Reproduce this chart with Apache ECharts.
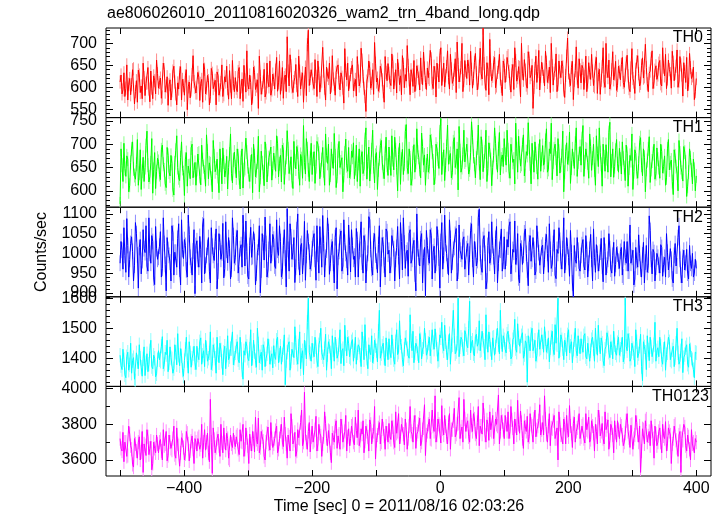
<!DOCTYPE html>
<html>
<head>
<meta charset="utf-8">
<script src="https://cdn.jsdelivr.net/npm/echarts@6/dist/echarts.min.js"></script>
<style>
html,body{margin:0;padding:0;background:#fff;}
#chart{width:723px;height:516px;}
</style>
</head>
<body>
<div id="chart"></div>
<script>
// ---- data ----
const title = 'ae806026010_20110816020326_wam2_trn_4band_long.qdp';
const xTitle = 'Time [sec] 0 = 2011/08/16 02:03:26';
const yTitle = 'Counts/sec';
// bins: "Values" at t = -500 + 3k (k = 0..300), "Mid" at t = -498.5 + 3k (k = 0..299)
const tStart = -500, tStep = 3, tHalf = 1.5;

const th0Values = [
612,585,633,598,571,620,606,642,590,566,628,603,655,581,610,596,637,574,615,662,
598,621,578,640,603,559,617,592,648,585,610,633,571,604,626,549,612,594,672,600,
587,623,609,566,641,598,615,579,632,605,560,627,594,651,583,612,597,638,574,609,
622,590,645,601,568,617,683,596,611,578,634,603,552,625,599,641,587,613,660,594,
618,639,591,660,607,575,628,715,603,649,588,622,604,671,596,633,612,581,730,620,
642,597,625,660,589,614,637,571,628,655,603,619,582,646,611,633,598,688,617,592,
629,651,606,580,637,614,662,598,545,626,643,609,584,655,621,603,639,590,670,615,
632,604,658,619,587,641,626,672,599,614,650,583,628,661,607,636,594,622,680,611,
644,618,665,597,633,655,612,690,628,601,647,622,675,609,639,588,652,627,700,615,
638,662,605,641,620,677,594,648,631,735,612,656,583,640,625,668,603,646,619,581,
650,627,672,609,638,595,661,622,645,700,616,639,598,666,629,552,643,611,684,625,
641,603,657,624,588,649,632,676,607,635,660,594,627,712,616,645,572,638,621,665,
610,643,625,590,656,618,637,601,668,629,584,647,613,700,622,596,640,617,659,604,
635,652,611,628,673,597,644,620,586,658,631,609,667,624,645,590,637,683,612,649,
628,661,603,646,675,619,640,598,657,632,685,614,651,580,636,668,607,645,626,572,
620];
const th0Mid = [
628,594,579,651,607,583,640,562,615,639,588,574,622,609,645,567,598,626,585,631,
611,575,655,589,624,606,571,637,612,560,596,647,618,582,640,601,576,629,613,587,
634,570,618,654,585,627,560,643,597,616,635,582,611,579,624,648,573,603,661,590,
598,636,574,619,650,589,607,628,560,646,595,617,671,584,612,578,655,601,582,630,
596,668,610,584,645,622,590,637,674,601,613,652,579,637,619,566,646,697,604,640,
608,663,579,632,610,691,598,646,620,585,672,607,634,651,594,623,564,638,655,612,
645,592,618,670,603,689,625,579,614,660,598,640,702,612,591,648,617,566,634,654,
611,676,596,640,664,606,583,652,629,695,617,640,602,590,649,621,667,606,644,595,
622,684,609,648,578,638,672,604,655,626,683,596,642,618,665,703,612,645,590,661,
620,648,682,598,657,633,610,689,619,654,593,641,709,615,656,599,634,675,602,660,
611,668,636,589,652,690,614,647,578,632,663,605,681,622,650,600,671,636,594,657,
625,682,611,646,700,605,639,590,660,622,647,577,671,633,604,659,616,692,598,640,
650,595,671,612,633,675,604,655,586,641,616,690,600,636,662,608,681,630,593,648,
617,668,600,655,626,590,688,612,641,672,603,650,621,698,608,632,665,597,639,618,
655,608,690,626,597,662,631,682,615,648,600,670,628,656,611,592,677,620,646,590];

const th1Values = [
572,655,702,631,668,612,690,647,625,710,638,603,672,650,728,619,660,595,682,641,
663,624,698,645,607,676,632,659,591,687,650,622,705,639,668,610,654,692,628,661,
646,681,613,667,640,720,626,658,598,675,649,631,690,615,662,644,604,679,637,666,
652,690,628,671,606,648,683,635,662,596,675,643,717,629,660,611,686,646,668,623,
681,642,702,658,619,688,650,729,637,673,605,664,695,641,678,627,661,712,645,670,
635,684,652,700,626,667,643,722,659,612,690,648,675,631,706,662,598,681,654,693,
640,672,626,698,659,610,684,647,735,663,621,688,652,676,603,669,708,641,680,655,
694,633,667,715,650,678,614,689,658,742,637,671,626,699,661,683,646,724,655,612,
679,652,707,664,630,690,648,755,668,622,695,657,680,639,714,662,602,686,650,730,
666,698,645,748,674,628,692,659,716,641,683,620,703,667,650,735,661,690,634,677,
712,655,688,627,699,668,745,640,681,657,720,633,676,694,615,672,705,651,686,642,
697,661,733,646,680,624,690,670,712,638,675,598,684,657,726,649,668,702,631,679,
655,740,662,688,627,695,670,645,718,652,682,610,673,699,640,747,664,629,687,658,
691,636,670,622,680,649,665,603,688,641,659,714,632,672,646,690,618,664,700,637,
668,627,684,652,612,690,645,666,592,675,638,708,650,621,683,588,640,671,615,646,
632];
const th1Mid = [
690,620,648,675,598,661,705,633,657,612,688,642,620,697,655,630,712,646,605,670,
635,688,657,615,693,640,676,602,660,718,628,671,648,590,682,653,626,700,644,612,
679,631,698,652,610,685,660,627,708,641,668,596,655,692,630,674,650,722,617,683,
628,675,604,690,645,713,652,620,678,700,630,662,598,685,641,705,619,671,694,648,
660,718,630,676,698,614,672,690,650,622,706,647,683,612,669,740,636,690,620,702,
668,616,706,681,645,693,612,676,700,634,664,723,607,686,650,671,633,711,642,628,
685,703,648,620,690,672,637,710,625,694,651,730,617,682,645,697,660,626,715,633,
660,718,645,688,600,702,668,635,727,650,690,612,681,640,733,672,628,695,677,655,
640,720,683,613,700,668,726,635,688,655,741,672,628,705,650,690,738,640,678,662,
700,636,682,715,657,670,741,624,695,664,730,648,688,611,676,702,640,725,668,652,
678,730,642,700,661,615,690,717,653,699,632,684,746,658,702,640,680,625,710,668,
655,708,640,690,745,662,700,632,685,655,728,640,703,670,616,690,648,735,662,695,
712,631,690,660,722,644,700,612,680,735,657,700,642,669,725,630,690,652,710,640,
668,705,650,698,610,676,722,641,680,627,703,655,690,598,665,716,646,680,625,692,
650,700,638,675,628,710,660,620,688,652,600,681,640,695,662,610,690,645,668,600];

const th2Values = [
975,1008,1065,952,1020,985,1042,930,1078,996,1015,948,1060,1002,968,1090,975,1030,921,1012,
990,1055,962,1025,905,1010,978,1070,945,1003,1038,960,1085,987,1020,940,1048,970,1006,898,
1032,965,1010,1072,948,995,1040,925,1018,982,1062,955,1028,1001,938,1080,976,1013,960,1045,
990,1058,945,1022,1097,968,1005,935,1066,992,1030,950,1015,900,1050,983,1025,958,1075,1000,
1036,962,1008,1070,940,1020,988,1113,955,1042,1003,926,1060,979,1018,948,1081,995,1030,960,
1012,1050,932,998,1068,965,1025,990,1090,947,1016,975,1040,910,1005,1057,968,1028,983,1072,
953,1020,993,1063,940,1010,978,1045,925,1000,1085,962,1032,996,951,1070,987,1022,940,1055,
1008,970,1040,930,1015,992,1078,958,1026,1001,942,1060,985,1033,905,1012,968,1050,990,893,
1020,975,1045,1003,950,1068,988,1030,960,1097,1000,945,1038,978,1015,1063,955,1008,985,1042,
960,1025,998,1075,940,1010,982,1112,965,1035,1000,930,1055,990,1020,948,1068,975,1008,955,
1042,988,1016,1080,950,1003,972,1050,925,1013,995,1062,958,1027,980,1040,945,1070,1002,968,
1021,985,1048,952,1010,973,1060,936,1000,1033,960,1090,978,1018,942,1002,890,985,1040,962,
995,1035,958,1010,975,1048,930,990,1022,955,1003,968,1040,945,985,1012,950,1028,972,998,
962,1015,940,990,1030,955,975,1008,935,982,1047,960,996,925,1020,970,1058,948,1002,965,
990,950,1015,972,940,1003,960,985,925,1025,968,1070,945,990,958,1010,935,975,1000,950,
962];
const th2Mid = [
1030,960,995,1088,940,1025,1005,970,1050,912,1035,982,1012,1070,955,1000,1045,938,1068,985,
1018,940,1090,972,1040,995,930,1052,1003,965,1075,920,1010,1035,958,1097,990,945,1060,1020,
985,1043,925,1088,970,1015,955,1065,995,1030,910,1050,985,1076,962,1008,1040,935,1090,975,
1040,950,1012,965,1035,1082,942,1020,990,1055,920,1003,1070,958,1027,1092,940,1010,975,1048,
968,1085,995,1030,955,1060,915,1010,1075,985,1040,965,1100,945,1025,990,932,1058,1003,975,
1038,985,1070,950,1020,1096,940,1008,1055,975,1030,925,1065,990,1042,955,1085,1000,945,1020,
1060,985,940,1035,1005,1080,950,1028,975,1093,1010,945,1050,980,1022,915,1040,970,1062,998,
950,1045,1012,985,1068,935,1030,1090,962,1008,1050,975,1020,948,1100,990,1037,925,1015,1058,
990,1060,935,1018,975,1040,912,1078,995,1025,968,1085,950,1010,1048,930,1072,998,1035,960,
1012,945,1058,985,1030,968,1090,1000,952,1045,910,1020,975,1080,992,1038,925,1010,1062,980,
960,1035,1068,948,1010,1082,990,938,1025,972,1052,1000,918,1045,985,1010,955,1035,970,1015,
948,1030,1000,1075,962,1025,945,1010,1065,980,1012,950,1040,990,1058,925,1020,975,1008,955,
1022,968,1045,940,1010,985,1062,952,1000,975,1038,928,1005,970,1050,960,995,942,1015,980,
1005,945,1030,975,955,1072,990,920,1015,965,1000,940,1028,978,952,1095,985,1010,930,1000,
970,1022,942,990,1050,958,1012,935,995,968,1040,985,925,1008,975,950,1020,962,940,985];

const th3Values = [
1410,1362,1395,1335,1420,1378,1350,1402,1325,1388,1445,1370,1398,1342,1415,1380,1460,1365,1400,1348,
1425,1390,1472,1380,1412,1355,1438,1398,1365,1420,1482,1375,1408,1340,1430,1392,1455,1370,1415,1385,
1440,1395,1468,1410,1372,1435,1400,1488,1382,1425,1350,1412,1450,1390,1420,1365,1475,1405,1432,1378,
1418,1455,1385,1430,1330,1410,1440,1392,1495,1400,1422,1370,1448,1405,1360,1432,1398,1465,1380,1415,
1442,1396,1470,1410,1380,1435,1312,1420,1455,1390,1428,1505,1402,1440,1365,1425,1460,1398,1600,1415,
1450,1405,1438,1372,1460,1418,1395,1480,1412,1440,1365,1428,1470,1400,1445,1382,1432,1510,1408,1450,
1400,1462,1425,1380,1445,1410,1488,1395,1432,1365,1420,1475,1405,1442,1388,1560,1415,1450,1375,1430,
1465,1402,1440,1380,1495,1420,1452,1395,1430,1470,1408,1545,1425,1385,1450,1415,1482,1398,1438,1460,
1420,1470,1405,1452,1498,1430,1395,1468,1440,1510,1418,1455,1380,1445,1475,1422,1600,1438,1462,1408,
1480,1435,1590,1450,1415,1472,1440,1525,1428,1460,1395,1455,1488,1430,1468,1410,1475,1445,1560,1422,
1462,1418,1490,1445,1405,1470,1432,1515,1440,1475,1400,1458,1320,1448,1480,1425,1460,1410,1495,1435,
1455,1505,1420,1468,1435,1490,1412,1450,1600,1428,1462,1395,1445,1478,1418,1455,1430,1500,1408,1440,
1465,1420,1482,1398,1445,1425,1470,1390,1438,1510,1415,1450,1375,1440,1468,1402,1435,1490,1418,1452,
1410,1445,1388,1600,1425,1460,1400,1432,1372,1455,1415,1480,1325,1438,1362,1428,1470,1405,1445,1390,
1435,1470,1395,1430,1360,1418,1455,1390,1440,1402,1500,1380,1425,1352,1412,1445,1370,1428,1395,1335,
1418];
const th3Mid = [
1375,1430,1345,1405,1360,1450,1392,1330,1418,1365,1400,1340,1438,1385,1355,1425,1372,1410,1338,1395,
1395,1440,1365,1420,1460,1385,1402,1350,1445,1378,1410,1432,1360,1392,1470,1350,1418,1400,1440,1362,
1410,1455,1380,1425,1460,1390,1418,1362,1445,1400,1470,1385,1428,1345,1440,1410,1395,1432,1488,1400,
1440,1395,1470,1362,1425,1455,1400,1430,1375,1460,1392,1500,1385,1420,1445,1372,1415,1440,1402,1368,
1405,1460,1385,1440,1412,1478,1392,1445,1360,1430,1402,1452,1380,1488,1410,1345,1435,1520,1420,1390,
1425,1470,1392,1445,1500,1405,1432,1360,1455,1418,1475,1390,1440,1412,1495,1425,1375,1448,1470,1405,
1455,1390,1470,1418,1438,1372,1450,1512,1400,1445,1412,1385,1460,1425,1490,1400,1440,1402,1468,1395,
1420,1478,1395,1455,1412,1525,1440,1375,1468,1432,1400,1458,1490,1418,1440,1385,1462,1430,1500,1410,
1450,1408,1495,1430,1462,1390,1478,1520,1425,1455,1395,1482,1440,1560,1415,1450,1405,1470,1430,1492,
1445,1500,1418,1460,1408,1480,1450,1425,1490,1440,1545,1420,1462,1395,1470,1438,1500,1415,1455,1475,
1430,1480,1455,1398,1462,1530,1420,1468,1440,1485,1412,1450,1475,1425,1500,1440,1390,1462,1430,1478,
1420,1465,1440,1388,1470,1430,1512,1445,1400,1478,1432,1460,1408,1495,1440,1385,1462,1425,1475,1415,
1440,1475,1405,1450,1390,1462,1432,1500,1410,1445,1468,1392,1430,1485,1420,1455,1398,1445,1410,1470,
1430,1470,1405,1440,1482,1390,1450,1418,1495,1402,1440,1372,1455,1420,1475,1392,1438,1410,1520,1425,
1405,1440,1380,1455,1412,1470,1395,1428,1372,1450,1418,1390,1465,1402,1435,1380,1448,1400,1362,1420];

const th0123Values = [
3720,3650,3590,3700,3625,3745,3660,3560,3690,3610,3730,3645,3530,3680,3770,3630,3705,3580,3665,3740,
3640,3715,3600,3680,3760,3625,3700,3655,3790,3610,3690,3565,3725,3670,3635,3750,3595,3705,3660,3720,
3650,3730,3685,3610,3770,3700,3640,3940,3525,3715,3670,3745,3620,3695,3780,3655,3720,3600,3690,3750,
3675,3740,3630,3705,3800,3660,3725,3580,3690,3760,3645,3715,3835,3670,3730,3620,3700,3785,3655,3720,
3690,3765,3640,3720,3800,3675,3745,3610,3730,3860,3690,3755,3650,3725,3810,3680,3980,3700,3760,3645,
3790,3710,3845,3690,3750,3620,3730,3805,3680,3760,3585,3725,3790,3665,3745,3830,3700,3760,3650,3775,
3720,3800,3685,3765,3880,3710,3745,3640,3790,3730,3825,3690,3760,3605,3740,3810,3700,3775,3660,3750,
3805,3715,3785,3670,3750,3860,3730,3795,3685,3770,3720,3900,3745,3810,3665,3760,3835,3700,3780,3625,
3760,3830,3715,3790,3960,3740,3800,3695,3775,3850,3730,3810,3660,3770,3890,3745,3805,3720,3785,3940,
3760,3820,3700,3795,3860,3745,3810,3680,3790,3920,3740,3825,3710,3770,3850,3730,3800,3965,3760,3815,
3720,3800,3870,3760,3825,3690,3790,3935,3750,3810,3665,3785,3845,3730,3800,3700,3880,3770,3820,3740,
3810,3960,3745,3790,3680,3775,3850,3720,3600,3800,3740,3830,3690,3765,3905,3750,3805,3700,3780,3860,
3730,3800,3695,3770,3840,3715,3790,3650,3760,3880,3735,3805,3690,3770,3825,3710,3780,3640,3755,3820,
3720,3790,3680,3750,3860,3725,3795,3660,3740,3810,3700,3530,3775,3690,3830,3735,3680,3760,3610,3745,
3700,3780,3640,3735,3815,3690,3760,3580,3720,3800,3670,3740,3530,3710,3785,3650,3730,3600,3690,3640,
3700];
const th0123Mid = [
3665,3755,3700,3620,3790,3680,3575,3720,3650,3700,3600,3760,3690,3625,3730,3665,3545,3700,3640,3690,
3700,3650,3770,3690,3595,3740,3665,3720,3630,3780,3680,3640,3710,3600,3760,3690,3650,3735,3580,3700,
3720,3660,3800,3700,3655,3750,3590,3700,3780,3640,3720,3680,3800,3640,3700,3750,3610,3740,3670,3700,
3730,3660,3770,3700,3620,3780,3680,3745,3650,3720,3840,3690,3640,3760,3705,3600,3750,3690,3810,3670,
3720,3790,3660,3760,3700,3840,3690,3740,3650,3790,3710,3620,3770,3720,3880,3700,3750,3660,3810,3730,
3700,3770,3650,3800,3735,3690,3870,3720,3765,3640,3750,3700,3820,3735,3660,3790,3710,3850,3730,3680,
3790,3700,3840,3725,3680,3775,3820,3705,3760,3650,3800,3740,3900,3710,3780,3690,3830,3735,3790,3700,
3730,3820,3700,3870,3760,3690,3800,3745,3830,3660,3790,3760,3700,3850,3745,3800,3680,3770,3910,3740,
3800,3720,3880,3760,3700,3830,3790,3905,3740,3790,3690,3860,3770,3820,3730,3800,3950,3760,3700,3830,
3800,3730,3880,3760,3830,3720,3900,3790,3745,3850,3700,3800,3870,3760,3720,3830,3790,3690,3850,3770,
3850,3760,3720,3900,3780,3830,3740,3800,3875,3720,3820,3760,3700,3860,3790,3830,3730,3790,3910,3770,
3740,3830,3700,3860,3780,3820,3720,3780,3870,3740,3690,3800,3850,3730,3790,3670,3840,3760,3810,3720,
3790,3720,3860,3760,3700,3820,3750,3800,3690,3840,3760,3720,3870,3790,3660,3800,3740,3820,3700,3770,
3800,3740,3700,3820,3760,3670,3800,3720,3850,3740,3790,3650,3770,3820,3700,3760,3820,3720,3790,3680,
3760,3700,3800,3720,3650,3780,3740,3690,3790,3710,3620,3760,3720,3800,3680,3740,3660,3770,3700,3720];

const bandNames = ['TH0', 'TH1', 'TH2', 'TH3', 'TH0123'];
const bandErrors = [15, 15, 20, 24, 40];     // typical 1-sigma error per bin

const xTickValues  = [-500, -400, -300, -200, -100, 0, 100, 200, 300, 400];
const xLabelValues = [-400, -200, 0, 200, 400];

const yLabelsTH0    = [550, 600, 650, 700];
const yLabelsTH1    = [600, 650, 700, 750];
const yLabelsTH2    = [900, 950, 1000, 1050, 1100];
const yLabelsTH3    = [1400, 1500, 1600];
const yLabelsTH0123 = [3600, 3800, 4000];

// ---- layout / style ----
const FONT = '"Liberation Sans", Arial, Helvetica, sans-serif';
const panels = [
  {values: th0Values,    mid: th0Mid,    labels: yLabelsTH0,    minorStep: 10,  min: 531,  max: 735,  color: '#ff0000', light: '#ff8c8c', tagX: 703},
  {values: th1Values,    mid: th1Mid,    labels: yLabelsTH1,    minorStep: 10,  min: 565,  max: 757,  color: '#00ff00', light: '#8cff8c', tagX: 703},
  {values: th2Values,    mid: th2Mid,    labels: yLabelsTH2,    minorStep: 10,  min: 890,  max: 1117, color: '#0000ff', light: '#8c8cff', tagX: 703},
  {values: th3Values,    mid: th3Mid,    labels: yLabelsTH3,    minorStep: 20,  min: 1306, max: 1605, color: '#00ffff', light: '#8cffff', tagX: 703},
  {values: th0123Values, mid: th0123Mid, labels: yLabelsTH0123, minorStep: 100, min: 3510, max: 4013, color: '#ff00ff', light: '#ff8cff', tagX: 709}
];
const gridLeft = 106, gridRight = 12, gridTop = 28, gridH = 89.6;
const xMin = -522, xMax = 423;

function minorTicks(p) {
  const out = [];
  const start = Math.ceil(p.min / p.minorStep) * p.minorStep;
  for (let v = start; v <= p.max; v += p.minorStep) {
    if (p.labels.indexOf(v) < 0) out.push(v);
  }
  return out;
}

function buildData(p) {
  const out = [];
  p.values.forEach((v, k) => {
    const t = tStart + k * tStep;
    out.push([t, v]);
    if (k < p.mid.length) out.push([t + tHalf, p.mid[k]]);
  });
  return out;
}

const grids = [], xAxes = [], yAxes = [], series = [], graphics = [];

panels.forEach((p, i) => {
  const err = bandErrors[i];
  const data = buildData(p);
  grids.push({left: gridLeft, right: gridRight, top: gridTop + i * gridH, height: gridH,
    show: true, borderColor: '#000', borderWidth: 1, backgroundColor: 'transparent'});

  ['bottom', 'top'].forEach(pos => {
    xAxes.push({
      type: 'value', gridIndex: i, position: pos, min: xMin, max: xMax,
      axisLine: {show: false, onZero: false}, splitLine: {show: false},
      axisTick: {show: true, inside: true, length: 6, customValues: xTickValues,
        lineStyle: {color: '#000', width: 1}},
      axisLabel: {show: pos === 'bottom' && i === panels.length - 1, customValues: xLabelValues,
        color: '#000', fontSize: 16, fontFamily: FONT, margin: 5,
        formatter: v => String(v).replace('-', '\u2212')}
    });
  });

  const minors = minorTicks(p);
  ['left', 'right'].forEach(pos => {
    yAxes.push({
      type: 'value', gridIndex: i, position: pos, min: p.min, max: p.max,
      axisLine: {show: false, onZero: false}, splitLine: {show: false},
      axisTick: {show: true, inside: true, length: 7, customValues: p.labels,
        lineStyle: {color: '#000', width: 1}},
      axisLabel: {show: pos === 'left', customValues: p.labels, color: '#000',
        fontSize: 16, fontFamily: FONT, margin: 9, formatter: v => String(v)}
    });
    yAxes.push({
      type: 'value', gridIndex: i, position: pos, min: p.min, max: p.max,
      axisLine: {show: false, onZero: false}, splitLine: {show: false},
      axisTick: {show: true, inside: true, length: 4, customValues: minors,
        lineStyle: {color: '#000', width: 1}},
      axisLabel: {show: false}
    });
  });

  series.push({
    type: 'custom', xAxisIndex: 2 * i, yAxisIndex: 4 * i, data: data, clip: true, z: 1,
    silent: true, animation: false,
    renderItem: (params, api) => {
      const t = api.value(0), v = api.value(1);
      const a = api.coord([t, v - err]);
      const b = api.coord([t, v + err]);
      return {type: 'line', shape: {x1: a[0], y1: a[1], x2: b[0], y2: b[1]},
        style: {stroke: p.light, lineWidth: 1}};
    }
  });
  series.push({
    type: 'line', xAxisIndex: 2 * i, yAxisIndex: 4 * i, data: data, z: 2,
    showSymbol: false, symbol: 'none', silent: true, animation: false, clip: true,
    sampling: 'none', lineStyle: {color: p.color, width: 1}
  });

  graphics.push({type: 'text', right: 723 - p.tagX, top: gridTop + i * gridH + 2,
    style: {text: bandNames[i], fill: '#000', font: '16px ' + FONT}, z: 100});
});

graphics.push({type: 'text', left: 107, top: 6,
  style: {text: title, fill: '#000', font: '16px ' + FONT}});
graphics.push({type: 'text', x: 399, y: 507,
  style: {text: xTitle, fill: '#000', font: '16px ' + FONT, textAlign: 'center', textVerticalAlign: 'middle'}});
graphics.push({type: 'text', x: 42, y: 252, rotation: Math.PI / 2,
  style: {text: yTitle, fill: '#000', font: '16px ' + FONT, textAlign: 'center', textVerticalAlign: 'middle'}});

const chart = echarts.init(document.getElementById('chart'), null, {renderer: 'canvas'});
chart.setOption({
  backgroundColor: '#fff',
  animation: false,
  grid: grids,
  xAxis: xAxes,
  yAxis: yAxes,
  series: series,
  graphic: graphics
});
</script>
</body>
</html>
